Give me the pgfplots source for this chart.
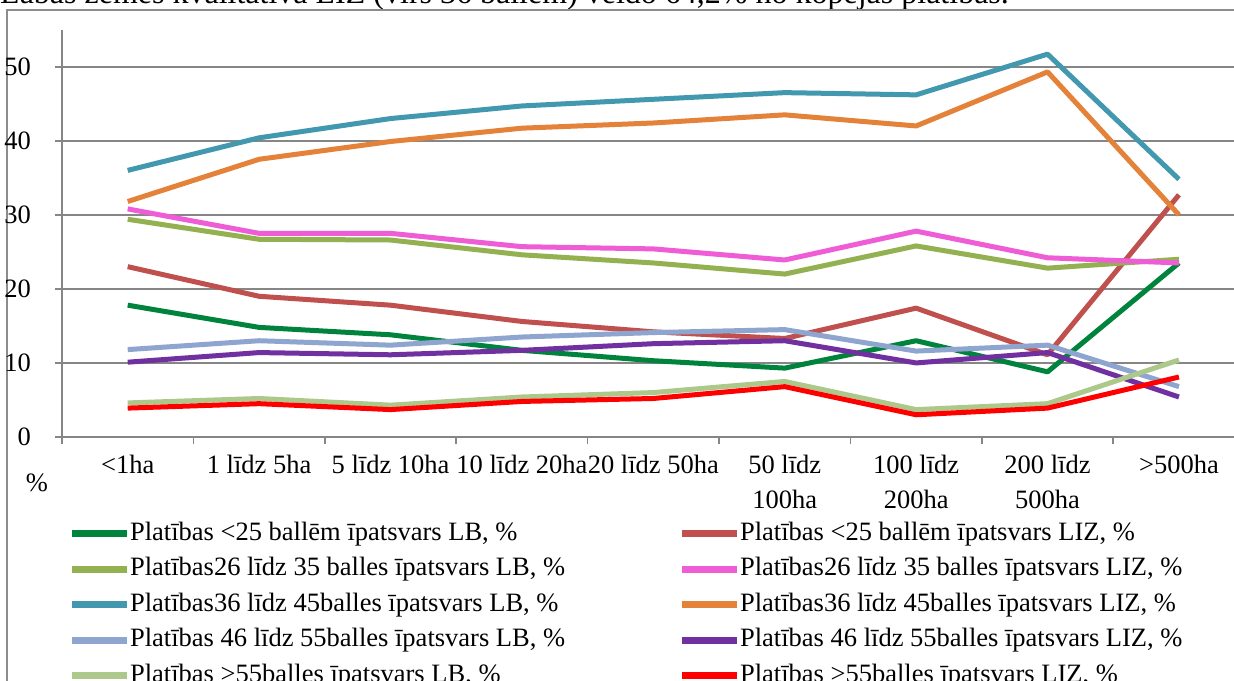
\documentclass[border=0pt]{standalone}
\usepackage{fontspec}
\setmainfont{Liberation Serif}
\usepackage{pgfplots}
\pgfplotsset{compat=1.18}
\definecolor{framegray}{RGB}{140,140,140}
\definecolor{gridgray}{RGB}{134,134,134}
\definecolor{cA}{RGB}{0,132,61}
\definecolor{cB}{RGB}{192,80,77}
\definecolor{cC}{RGB}{147,177,81}
\definecolor{cD}{RGB}{238,92,214}
\definecolor{cE}{RGB}{65,152,175}
\definecolor{cF}{RGB}{229,130,58}
\definecolor{cG}{RGB}{142,165,207}
\definecolor{cH}{RGB}{112,48,160}
\definecolor{cI}{RGB}{172,200,138}
\definecolor{cJ}{RGB}{255,0,0}
\begin{document}
\begin{tikzpicture}[x=1bp,y=1bp]
\useasboundingbox (0,0) rectangle (1234,681);
\clip (0,0) rectangle (1234,681);
\fill[white] (0,0) rectangle (1234,681);
\node[anchor=base west, inner sep=0pt, font=\fontsize{32bp}{36bp}\selectfont] at (0,677) {Labās zemes kvalitatīvā LIZ (virs 36 ballēm) veido 64,2\% no kopējās platības.};
\draw[color=framegray, line width=2bp] (7,-5) -- (7,671) -- (1240,671);
\node[anchor=center, inner sep=0pt, font=\fontsize{26.5bp}{33bp}\selectfont] at (37,198) {\%};
\begin{axis}[
  at={(62bp,244bp)}, anchor=south west, scale only axis,
  width=1172bp, height=407.3bp,
  xmin=-0.5, xmax=8.419, ymin=0, ymax=55,
  axis x line*=bottom, axis y line*=left,
  axis line style={color=gridgray, line width=2bp},
  ytick={0,10,20,30,40,50},
  ymajorgrids, major grid style={color=gridgray, line width=1.6bp},
  xtick={-0.5,0.5,1.5,2.5,3.5,4.5,5.5,6.5,7.5},
  xticklabels={},
  extra x ticks={0,1,2,3,4,5,6,7,8},
  extra x tick labels={{<1ha},{1 līdz 5ha},{5 līdz 10ha},{10 līdz 20ha},{20 līdz 50ha},{50 līdz\\100ha},{100 līdz\\200ha},{200 līdz\\500ha},{>500ha}},
  extra x tick style={major tick length=0pt, xticklabel style={align=center, inner sep=0pt, anchor=north, yshift=-18bp, font=\fontsize{26.5bp}{35bp}\selectfont}},
  tick align=outside,
  major tick length=7bp,
  tick style={color=gridgray, line width=1.6bp},
  /pgf/number format/assume math mode=true,
  tick label style={font=\fontsize{26.5bp}{33bp}\selectfont},
  yticklabel style={inner sep=0pt, anchor=east, xshift=-24bp},
  legend columns=2,
  legend cell align=left,
  legend image code/.code={\draw[#1, line width=7bp] (0bp,0bp) -- (55bp,0bp);},
  legend style={draw=none, fill=none, at={(0.0025,-0.199)}, anchor=north west,
    font=\fontsize{26.5bp}{33bp}\selectfont,
    nodes={inner sep=0pt, text height=20bp, text depth=7bp},
    row sep=8.5bp,
    /tikz/every odd column/.append style={column sep=0bp},
    /tikz/every even column/.append style={column sep=113bp}},
  every axis plot/.append style={line width=5bp, line join=round, no markers},
]
\addplot[cA] coordinates {(0,17.8)(1,14.8)(2,13.8)(3,11.7)(4,10.3)(5,9.3)(6,13.0)(7,8.8)(8,23.5)};
\addlegendentry{Platības <25 ballēm īpatsvars LB, \%}
\addplot[cB] coordinates {(0,23.0)(1,19.0)(2,17.8)(3,15.6)(4,14.2)(5,13.3)(6,17.4)(7,11.1)(8,32.7)};
\addlegendentry{Platības <25 ballēm īpatsvars LIZ, \%}
\addplot[cC] coordinates {(0,29.4)(1,26.7)(2,26.6)(3,24.6)(4,23.5)(5,22.0)(6,25.8)(7,22.8)(8,24.0)};
\addlegendentry{Platības26 līdz 35 balles īpatsvars LB, \%}
\addplot[cD] coordinates {(0,30.8)(1,27.5)(2,27.5)(3,25.7)(4,25.4)(5,23.9)(6,27.8)(7,24.2)(8,23.5)};
\addlegendentry{Platības26 līdz 35 balles īpatsvars LIZ, \%}
\addplot[cE] coordinates {(0,36.0)(1,40.4)(2,43.0)(3,44.7)(4,45.6)(5,46.5)(6,46.2)(7,51.7)(8,34.8)};
\addlegendentry{Platības36 līdz 45balles īpatsvars LB, \%}
\addplot[cF] coordinates {(0,31.8)(1,37.5)(2,39.9)(3,41.7)(4,42.4)(5,43.5)(6,42.0)(7,49.3)(8,30.0)};
\addlegendentry{Platības36 līdz 45balles īpatsvars LIZ, \%}
\addplot[cG] coordinates {(0,11.8)(1,13.0)(2,12.4)(3,13.5)(4,14.1)(5,14.5)(6,11.6)(7,12.4)(8,6.8)};
\addlegendentry{Platības 46 līdz 55balles īpatsvars LB, \%}
\addplot[cH] coordinates {(0,10.1)(1,11.4)(2,11.1)(3,11.7)(4,12.6)(5,13.0)(6,10.0)(7,11.4)(8,5.4)};
\addlegendentry{Platības 46 līdz 55balles īpatsvars LIZ, \%}
\addplot[cI] coordinates {(0,4.6)(1,5.2)(2,4.3)(3,5.4)(4,6.0)(5,7.5)(6,3.7)(7,4.5)(8,10.4)};
\addlegendentry{Platības >55balles īpatsvars LB, \%}
\addplot[cJ] coordinates {(0,3.9)(1,4.5)(2,3.7)(3,4.8)(4,5.2)(5,6.8)(6,3.0)(7,3.9)(8,8.1)};
\addlegendentry{Platības >55balles īpatsvars LIZ, \%}
\end{axis}
\end{tikzpicture}
\end{document}
